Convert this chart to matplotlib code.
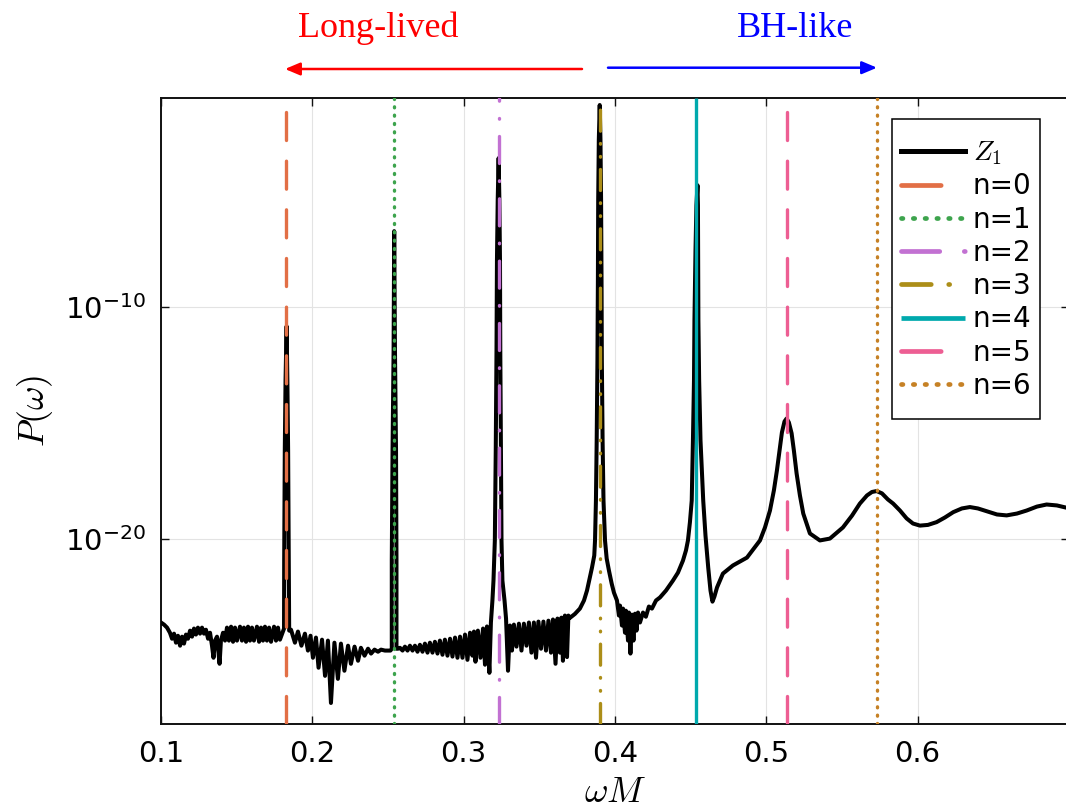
import numpy as np
import matplotlib
matplotlib.use("Agg")
import matplotlib.pyplot as plt
from matplotlib.lines import Line2D
from matplotlib.patches import FancyArrowPatch
from matplotlib.path import Path
from matplotlib.ticker import FixedLocator, NullLocator, LogFormatterSciNotation

# ---------------- data ----------------
omega_M = [
    # floor before n=0
    0.1000, 0.1020, 0.1040, 0.1059, 0.1073, 0.1086, 0.1099, 0.1112, 0.1126, 0.1139,
    0.1152, 0.1165, 0.1178, 0.1192, 0.1205, 0.1218, 0.1231, 0.1244, 0.1258, 0.1271,
    0.1284, 0.1297, 0.1311, 0.1324, 0.1337, 0.1347, 0.1357, 0.1370, 0.1387, 0.1396,
    0.1410, 0.1423, 0.1436, 0.1449, 0.1463, 0.1476, 0.1489, 0.1502, 0.1522, 0.1535,
    0.1548, 0.1562, 0.1575, 0.1588, 0.1601, 0.1614, 0.1634, 0.1648, 0.1661, 0.1674,
    0.1687, 0.1700, 0.1714, 0.1727, 0.1747, 0.1760, 0.1773, 0.1786,
    # n=0 peak
    0.1813, 0.1814, 0.1818, 0.1823, 0.1830, 0.1835, 0.1840, 0.1844, 0.1847,
    # floor n=0 -> n=1
    0.1859, 0.1885, 0.1905, 0.1928, 0.1951, 0.1971, 0.1988, 0.2004, 0.2024, 0.2041,
    0.2064, 0.2084, 0.2103, 0.2123, 0.2146, 0.2169, 0.2189, 0.2212, 0.2236, 0.2255,
    0.2279, 0.2302, 0.2321, 0.2345, 0.2368, 0.2388, 0.2411, 0.2434, 0.2454, 0.2480, 0.2516,
    # n=1 peak
    0.2525, 0.2525, 0.2530, 0.2537, 0.2541, 0.2546, 0.2553, 0.2556, 0.2556, 0.2566,
    # floor n=1 -> n=2
    0.2579, 0.2596, 0.2612, 0.2629, 0.2645, 0.2662, 0.2678, 0.2695, 0.2711, 0.2728,
    0.2744, 0.2761, 0.2777, 0.2794, 0.2810, 0.2827, 0.2843, 0.2860, 0.2876, 0.2893,
    0.2910, 0.2926, 0.2943, 0.2959, 0.2976, 0.2992, 0.3009, 0.3025, 0.3042, 0.3058,
    0.3068, 0.3078, 0.3094, 0.3111, 0.3128, 0.3141, 0.3154, 0.3170,
    # n=2 peak
    0.3180, 0.3190, 0.3197, 0.3206, 0.3212, 0.3217, 0.3220, 0.3225, 0.3231, 0.3236,
    0.3240, 0.3242, 0.3246, 0.3250, 0.3256, 0.3270, 0.3280, 0.3293,
    # floor n=2 -> n=3
    0.3306, 0.3319, 0.3332, 0.3349, 0.3365, 0.3382, 0.3398, 0.3415, 0.3431, 0.3448,
    0.3464, 0.3478, 0.3494, 0.3511, 0.3527, 0.3544, 0.3560, 0.3577, 0.3590, 0.3607,
    0.3620, 0.3636, 0.3646, 0.3656, 0.3669, 0.3683, 0.3692,
    # n=3 peak
    0.3702, 0.3735, 0.3768, 0.3795, 0.3815, 0.3834, 0.3848, 0.3863, 0.3868, 0.3874,
    0.3879, 0.3884, 0.3887, 0.3889, 0.3893, 0.3899, 0.3904, 0.3908, 0.3911, 0.3913,
    0.3918, 0.3924, 0.3934, 0.3945, 0.3960, 0.3978, 0.3993, 0.4013,
    # n=3 -> n=4
    0.4026, 0.4033, 0.4046, 0.4053, 0.4066, 0.4072, 0.4086, 0.4092, 0.4102, 0.4112,
    0.4122, 0.4132, 0.4142, 0.4152, 0.4165, 0.4185, 0.4204, 0.4224, 0.4244, 0.4271,
    0.4297, 0.4337, 0.4383, 0.4416, 0.4449, 0.4469, 0.4482, 0.4495,
    # n=4 peak
    0.4507, 0.4515, 0.4522, 0.4525, 0.4532, 0.4538, 0.4545, 0.4548, 0.4549, 0.4551,
    0.4556, 0.4565, 0.4583, 0.4598, 0.4616, 0.4631, 0.4644, 0.4657, 0.4674, 0.4713,
    # BH-like tail
    0.4779, 0.4872, 0.4958, 0.4991, 0.5024, 0.5050, 0.5070, 0.5090, 0.5103, 0.5120,
    0.5134, 0.5149, 0.5167, 0.5182, 0.5200, 0.5222, 0.5244, 0.5288, 0.5354, 0.5420,
    0.5506, 0.5566, 0.5618, 0.5665, 0.5698, 0.5729, 0.5764, 0.5803, 0.5838, 0.5883,
    0.5927, 0.5969, 0.6015, 0.6068, 0.6125, 0.6180, 0.6235, 0.6292, 0.6345, 0.6398,
    0.6456, 0.6524, 0.6588, 0.6656, 0.6720, 0.6788, 0.6852, 0.6920, 0.6980, 0.7000,
]

log10_P = [
    -23.61, -23.70, -23.83, -24.05, -24.31, -24.09, -24.48, -24.18, -24.61, -24.22,
    -24.52, -24.13, -24.31, -23.96, -24.22, -23.87, -24.13, -23.83, -24.09, -23.83,
    -24.09, -23.92, -24.31, -24.05, -24.61, -25.13, -24.39, -24.22, -25.39, -24.39,
    -24.05, -24.39, -23.83, -24.39, -23.79, -24.44, -23.83, -24.39, -23.79, -24.39,
    -23.83, -24.44, -23.79, -24.39, -23.83, -24.39, -23.79, -24.44, -23.83, -24.39,
    -23.79, -24.39, -23.83, -24.44, -23.79, -24.39, -23.83, -24.35,
    -23.87, -20.94, -16.19, -13.16, -10.83, -13.16, -16.19, -20.94, -23.96,
    -23.92, -24.48, -24.00, -24.61, -24.09, -24.82, -24.18, -25.13, -24.26, -25.56,
    -24.35, -25.91, -24.39, -27.08, -24.48, -26.04, -24.52, -25.69, -24.61, -25.39,
    -24.65, -25.26, -24.70, -25.04, -24.74, -24.95, -24.78, -24.87, -24.78, -24.82, -24.82,
    -24.74, -20.94, -16.19, -11.87, -6.73, -11.87, -16.19, -20.94, -24.74, -24.74,
    -24.70, -24.82, -24.65, -24.82, -24.61, -24.82, -24.61, -24.87, -24.57, -24.87,
    -24.52, -24.91, -24.48, -24.91, -24.44, -24.95, -24.39, -25.00, -24.35, -25.04,
    -24.31, -25.08, -24.26, -25.13, -24.22, -25.13, -24.13, -25.22, -24.05, -25.04,
    -24.00, -25.30, -23.96, -25.13, -23.87, -25.43, -23.78, -25.78,
    -23.61, -22.66, -21.80, -20.07, -16.19, -11.87, -7.98, -5.39, -3.58, -5.39,
    -7.98, -11.87, -16.19, -20.07, -21.80, -22.66, -23.44, -25.69,
    -23.74, -24.82, -23.70, -24.65, -23.66, -24.82, -23.66, -24.61, -23.61, -24.91,
    -23.61, -25.13, -23.57, -24.74, -23.57, -24.82, -23.53, -24.91, -23.48, -25.39,
    -23.44, -24.91, -23.40, -25.26, -23.31, -25.10, -23.31,
    -23.41, -23.24, -23.01, -22.66, -22.23, -21.67, -21.24, -20.72, -20.07, -18.35,
    -15.76, -12.30, -8.85, -5.39, -2.80, -1.29, -2.80, -5.39, -8.85, -12.30,
    -15.76, -18.35, -20.07, -20.85, -21.37, -21.93, -22.32, -22.66,
    -23.31, -22.88, -23.74, -23.01, -24.05, -23.10, -24.39, -23.18, -24.95, -23.27,
    -24.39, -23.23, -23.96, -23.18, -23.61, -23.18, -23.36, -22.92, -23.01, -22.66,
    -22.53, -22.23, -21.80, -21.46, -20.94, -20.50, -20.07, -19.29,
    -18.35, -15.76, -13.16, -10.57, -7.55, -5.61, -4.75, -5.61, -7.55, -10.57,
    -13.16, -15.76, -18.35, -19.86, -21.24, -22.23, -22.71, -22.49, -22.10, -21.50,
    -21.15, -20.81, -20.07, -19.51, -18.78, -17.91, -17.05, -16.06, -15.41, -14.94,
    -14.81, -14.98, -15.45, -16.19, -17.18, -18.13, -18.91, -19.77, -20.07, -19.99,
    -19.51, -19.00, -18.48, -18.13, -17.98, -17.94, -18.04, -18.30, -18.48, -18.78,
    -19.12, -19.34, -19.43, -19.40, -19.28, -19.08, -18.85, -18.69, -18.63, -18.69,
    -18.81, -18.95, -18.99, -18.91, -18.78, -18.61, -18.52, -18.56, -18.65, -18.69,
]

curve_label = r"$Z_1$"
mode_labels = ["n=0", "n=1", "n=2", "n=3", "n=4", "n=5", "n=6"]
mode_omega = [0.1829, 0.2541, 0.3231, 0.3901, 0.4537, 0.5137, 0.5731]
x_ticks = [0.1, 0.2, 0.3, 0.4, 0.5, 0.6]
x_tick_labels = ["0.1", "0.2", "0.3", "0.4", "0.5", "0.6"]
y_ticks = [1e-20, 1e-10]
region_labels = ["Long-lived", "BH-like"]

# ---------------- styles ----------------
mode_colors = ["#E26F46", "#3DA44D", "#C271D2", "#AC8E18", "#00A9AD", "#ED5E93", "#C68125"]
# dash patterns in units of line width (round caps)
mode_dashes = [
    (0, (8.4, 6.2)),
    (0, (0.3, 2.2)),
    (0, (8.1, 5.2, 0.2, 5.2)),
    (0, (6.3, 3.7, 0.2, 3.7, 0.2, 3.7)),
    "solid",
    (0, (8.4, 6.2)),
    (0, (0.3, 2.2)),
]

plt.rcParams["font.family"] = ["DejaVu Sans"]
plt.rcParams["mathtext.fontset"] = "dejavusans"

W, H = 1066, 811
fig = plt.figure(figsize=(W / 100, H / 100), dpi=100)
ax_l, ax_r, ax_t, ax_b = 161, 1069, 98.3, 724.3
ax = fig.add_axes([ax_l / W, 1 - ax_b / H, (ax_r - ax_l) / W, (ax_b - ax_t) / H])

P = 10.0 ** np.asarray(log10_P)
ax.plot(omega_M, P, color="black", lw=2.9, solid_joinstyle="round", zorder=3)

for w, c, ls in zip(mode_omega, mode_colors, mode_dashes):
    ax.axvline(w, color=c, lw=2.4, linestyle=ls, dash_capstyle="round",
               solid_capstyle="butt", zorder=4)

ax.set_yscale("log")
ax.set_xlim(0.1, 0.7)
ax.set_ylim(1e-28, 1e-1)
ax.yaxis.set_major_locator(FixedLocator(y_ticks))
ax.yaxis.set_minor_locator(NullLocator())
ax.yaxis.set_major_formatter(LogFormatterSciNotation())
ax.set_xticks(x_ticks)
ax.set_xticklabels(x_tick_labels)
ax.xaxis.set_minor_locator(NullLocator())

ax.grid(True, color="#e3e3e3", lw=0.8, zorder=0)
ax.set_axisbelow(True)
for sp in ax.spines.values():
    sp.set_linewidth(1.4)
    sp.set_color("#111111")
ax.tick_params(which="both", direction="in", length=6, width=1.0, top=True, right=True,
               labelsize=21, pad=11, colors="#111111")
ax.tick_params(axis="x", labelcolor="black")
ax.tick_params(axis="y", labelcolor="black")

ax.set_xlabel(r"$\omega M$", fontsize=26, math_fontfamily="cm", labelpad=5)
ax.set_ylabel(r"$P(\omega)$", fontsize=26, math_fontfamily="cm", labelpad=7)

# ---------------- legend ----------------
handles = [Line2D([], [], color="black", lw=3.6)]
for c, ls in zip(mode_colors, mode_dashes):
    handles.append(Line2D([], [], color=c, lw=3.4, linestyle=ls, dash_capstyle="round",
                          solid_capstyle="butt"))
labels = [curve_label] + mode_labels

EXTRA_V = 11.0  # extra vertical padding (pixels) of the legend frame


def legend_box(x0, y0, width, height, mutation_size):
    y0 = y0 - EXTRA_V
    height = height + 2 * EXTRA_V
    return Path([(x0, y0), (x0 + width, y0), (x0 + width, y0 + height),
                 (x0, y0 + height), (x0, y0)], closed=True)


leg = ax.legend(handles, labels, loc="upper right",
                bbox_to_anchor=(1040 / W, 1 - (119 + EXTRA_V) / H),
                bbox_transform=fig.transFigure, borderaxespad=0,
                fontsize=20, frameon=True, fancybox=False, framealpha=1,
                edgecolor="black", borderpad=0.3, handlelength=2.3,
                handletextpad=0.3, labelspacing=0.19)
leg.get_frame().set_linewidth(1.1)
leg.get_frame().set_boxstyle(legend_box)
leg.get_texts()[0].set_math_fontfamily("cm")
leg.set_zorder(10)

# ---------------- annotations above the axes ----------------
fig.text(378 / W, 1 - 37 / H, region_labels[0], color="red", fontsize=26,
         family="Liberation Serif", ha="center", va="baseline")
fig.text(795 / W, 1 - 37 / H, region_labels[1], color="blue", fontsize=26,
         family="Liberation Serif", ha="center", va="baseline")

red_arrow = FancyArrowPatch((582 / W, 1 - 69 / H), (285 / W, 1 - 69 / H),
                            transform=fig.transFigure, arrowstyle="-|>,head_length=0.9,head_width=0.38",
                            mutation_scale=10, color="red", lw=1.8, shrinkA=0, shrinkB=0)
blue_arrow = FancyArrowPatch((608 / W, 1 - 67.7 / H), (877 / W, 1 - 67.7 / H),
                             transform=fig.transFigure, arrowstyle="-|>,head_length=0.9,head_width=0.38",
                             mutation_scale=10, color="blue", lw=1.8, shrinkA=0, shrinkB=0)
fig.add_artist(red_arrow)
fig.add_artist(blue_arrow)

fig.savefig("out.png", dpi=100)
